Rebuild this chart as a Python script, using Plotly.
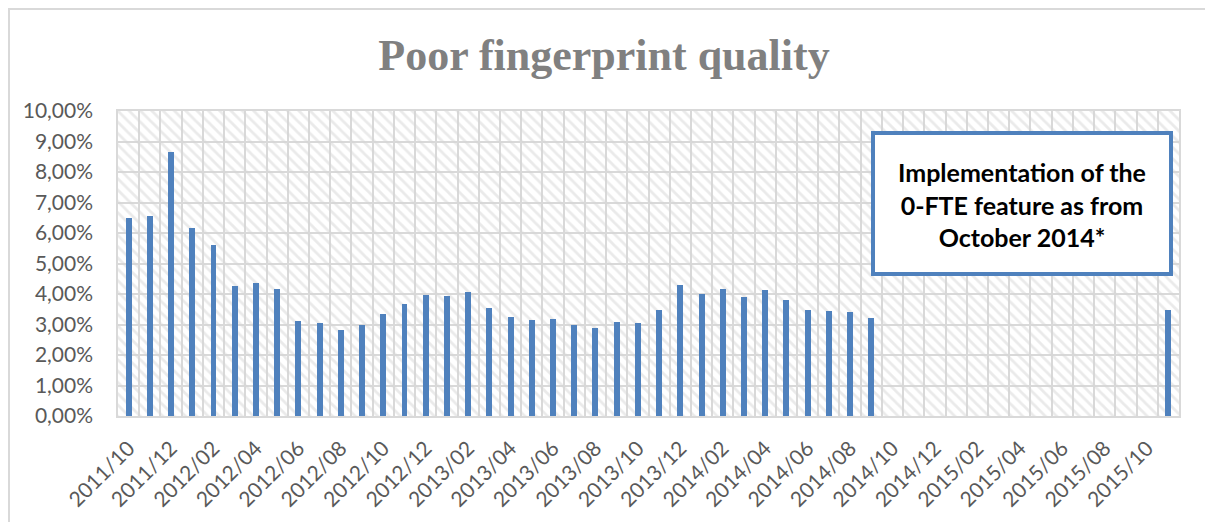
import plotly.graph_objects as go

# ---- data -------------------------------------------------------------
MONTHS = [
    "2011/10", "2011/11", "2011/12",
    "2012/01", "2012/02", "2012/03", "2012/04", "2012/05", "2012/06",
    "2012/07", "2012/08", "2012/09", "2012/10", "2012/11", "2012/12",
    "2013/01", "2013/02", "2013/03", "2013/04", "2013/05", "2013/06",
    "2013/07", "2013/08", "2013/09", "2013/10", "2013/11", "2013/12",
    "2014/01", "2014/02", "2014/03", "2014/04", "2014/05", "2014/06",
    "2014/07", "2014/08", "2014/09", "2014/10", "2014/11", "2014/12",
    "2015/01", "2015/02", "2015/03", "2015/04", "2015/05", "2015/06",
    "2015/07", "2015/08", "2015/09", "2015/10", "2015/11",
]

# poor fingerprint quality rate, in percent (None = no data)
POOR_QUALITY_PCT = [
    6.49, 6.56, 8.67,
    6.16, 5.62, 4.26, 4.37, 4.17, 3.10,
    3.05, 2.83, 3.00, 3.35, 3.67, 3.96,
    3.94, 4.07, 3.55, 3.23, 3.14, 3.19,
    2.99, 2.87, 3.09, 3.04, 3.49, 4.31,
    4.01, 4.17, 3.90, 4.13, 3.79, 3.46,
    3.44, 3.42, 3.21, None, None, None,
    None, None, None, None, None, None,
    None, None, None, None, 3.46,
]

TICK_LABELS = [
    "2011/10", "2011/12", "2012/02", "2012/04", "2012/06", "2012/08",
    "2012/10", "2012/12", "2013/02", "2013/04", "2013/06", "2013/08",
    "2013/10", "2013/12", "2014/02", "2014/04", "2014/06", "2014/08",
    "2014/10", "2014/12", "2015/02", "2015/04", "2015/06", "2015/08",
    "2015/10",
]

Y_TICKS = [0, 1, 2, 3, 4, 5, 6, 7, 8, 9, 10]
Y_TICK_TEXT = ["0,00%", "1,00%", "2,00%", "3,00%", "4,00%", "5,00%",
               "6,00%", "7,00%", "8,00%", "9,00%", "10,00%"]

TITLE = "Poor fingerprint quality"
NOTE = "Implementation of the<br>0-FTE feature as from<br>October 2014*"

# ---- styling ----------------------------------------------------------
OFF = 8                      # page body margin offset
W, H = 1213 - OFF, 522 - OFF
PL, PR, PT, PB = 118, 1179, 111, 416   # plot area in page pixels
L, T = PL - OFF, PT - OFF
R, B = W - (PR - OFF), H - (PB - OFF)
PW, PH = PR - PL, PB - PT
BAR_BLUE = "#4f81bd"
GRID = "#d9d9d9"
TXT = "#595959"
Y_MAX = Y_TICKS[-1]


def px_x(p):
    return (p - PL) / PW


def px_y(p):
    return (PB - p) / PH


fig = go.Figure()

# hatched plot-area background
fig.add_trace(go.Bar(
    x=MONTHS, y=[Y_MAX] * len(MONTHS), width=1,
    marker=dict(color="rgba(0,0,0,0)", line=dict(width=0),
                pattern=dict(shape="\\", fgcolor="#d6d6d6", bgcolor="rgba(0,0,0,0)",
                             size=8, solidity=0.35)),
    hoverinfo="skip", showlegend=False,
))

fig.add_trace(go.Bar(
    x=MONTHS, y=POOR_QUALITY_PCT, width=0.28,
    marker=dict(color=BAR_BLUE, line=dict(width=0)),
    showlegend=False,
))

tick_text = [m if m in TICK_LABELS else "" for m in MONTHS]

fig.update_layout(
    width=W, height=H,
    margin=dict(l=L, r=R, t=T, b=B, autoexpand=False),
    paper_bgcolor="white", plot_bgcolor="white",
    barmode="overlay", bargap=0,
    title=dict(text=f"<b>{TITLE}</b>", x=(604 - OFF) / W, xanchor="center",
               y=1 - (55 - OFF) / H, yanchor="middle",
               font=dict(family="Liberation Serif", size=44, color="#808080")),
    font=dict(family="Lato", color=TXT),
    xaxis=dict(type="category", categoryorder="array", categoryarray=MONTHS,
               range=[-0.5, len(MONTHS) - 0.5],
               tickmode="array", tickvals=MONTHS, ticktext=tick_text,
               tickson="boundaries", ticks="", tickangle=-45,
               tickfont=dict(family="Lato", size=21, color=TXT),
               ticklabelstandoff=10,
               showgrid=True, gridcolor=GRID, gridwidth=1.5,
               showline=True, linecolor=GRID, linewidth=1.5, mirror=True,
               zeroline=False, fixedrange=True),
    yaxis=dict(range=[0, Y_MAX], tickmode="array", tickvals=Y_TICKS,
               ticktext=Y_TICK_TEXT, ticks="",
               tickfont=dict(family="Lato", size=21, color=TXT),
               ticklabelstandoff=19,
               showgrid=True, gridcolor=GRID, gridwidth=1.5,
               showline=True, linecolor=GRID, linewidth=1.5, mirror=True,
               zeroline=False, fixedrange=True),
    shapes=[
        # outer chart border
        dict(type="rect", xref="paper", yref="paper",
             x0=px_x(9), x1=px_x(1230), y0=px_y(540), y1=px_y(9),
             line=dict(color=GRID, width=2), fillcolor="rgba(0,0,0,0)",
             layer="above"),
        # note box
        dict(type="rect", xref="paper", yref="paper",
             x0=px_x(873), x1=px_x(1171), y0=px_y(274), y1=px_y(133),
             line=dict(color=BAR_BLUE, width=4), fillcolor="white",
             layer="above"),
    ],
    annotations=[
        dict(text=f"<b>{NOTE}</b>", xref="paper", yref="paper",
             x=px_x(1022), y=px_y(204), xanchor="center", yanchor="middle",
             showarrow=False, align="center",
             font=dict(family="Lato", size=25, color="black")),
    ],
)

fig.write_html("out.html")
